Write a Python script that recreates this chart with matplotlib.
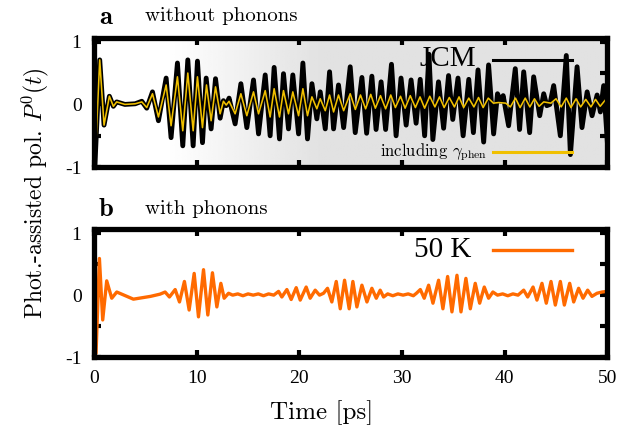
#plot photon-assisted polarisation, without / with phonons

import numpy as np
import matplotlib
matplotlib.use('Agg')
import matplotlib.pyplot as plt

plt.rcParams['mathtext.fontset'] = 'cm'

# panel a, JCM (black): extrema
black_t = [0.08, 0.55, 0.97, 1.49, 1.88, 2.2, 3.0, 4.0, 4.65, 5.13, 5.69, 6.27, 7.02, 7.5, 8.12, 8.64, 9.13, 9.65,
           10.07, 10.56, 10.92, 11.4, 11.83, 12.28, 12.6, 12.87, 13.15, 13.74, 14.3, 14.88, 15.53, 16.02, 16.67, 17.15,
           17.54, 18.06, 18.45, 18.94, 19.36, 19.92, 20.34, 20.79, 21.22, 21.7, 22.03, 22.52, 22.94, 23.33, 23.81, 24.31,
           24.95, 25.44, 26.09, 26.55, 27.06, 27.47, 27.96, 28.4, 28.97, 29.42, 29.9, 30.4, 30.88, 31.37, 31.77, 32.2,
           32.62, 33.0, 33.55, 34.05, 34.53, 34.94, 35.45, 35.95, 36.5, 36.95, 37.4, 37.95, 38.43, 38.92, 39.3, 39.6,
           39.85, 40.38, 41.03, 41.45, 41.85, 42.43, 42.82, 43.41, 43.8, 44.1, 44.4, 44.77, 45.42, 46.0, 46.4, 47.05,
           47.53, 48.03, 48.51, 49.0, 49.32, 49.64, 50.0]
black_y = [-0.97, 0.71, -0.33, 0.13, -0.03, 0.04, 0.0, 0.01, 0.05, -0.06, 0.2, -0.26, 0.42, -0.53, 0.66, -0.66, 0.71, -0.66,
           0.69, -0.61, 0.42, -0.39, 0.41, -0.22, 0.06, -0.02, 0.1, -0.31, 0.33, -0.37, 0.39, -0.47, 0.47, -0.5,
           0.59, -0.55, 0.49, -0.39, 0.47, -0.47, 0.66, -0.55, 0.33, -0.23, 0.2, -0.39, 0.52, -0.39, 0.31, -0.37,
           0.6, -0.45, 0.43, -0.46, 0.45, -0.4, 0.36, -0.4, 0.64, -0.5, 0.42, -0.33, 0.39, -0.3, 0.4, -0.5,
           0.8, -0.56, 0.36, -0.38, 0.46, -0.24, 0.42, -0.5, 0.4, -0.45, 0.55, -0.6, 0.63, -0.47, 0.17, 0.05,
           0.14, -0.34, 0.57, -0.4, 0.52, -0.45, 0.44, -0.18, 0.17, -0.02, 0.0, 0.3, -0.5, 0.78, -0.8, 0.6,
           -0.37, 0.2, -0.18, 0.15, -0.12, 0.3, -0.6]

# panel a, including gamma_phen (yellow)
yellow_t = [0.08, 0.55, 0.97, 1.49, 1.88, 2.2, 3.0, 4.0, 4.65, 5.13, 5.69, 6.27, 7.02, 7.5, 8.12, 8.64, 9.13, 9.65,
            10.07, 10.56, 10.95, 11.4, 11.83, 12.28, 12.6, 12.87, 13.15, 13.74, 14.3, 14.88, 15.53, 16.02, 16.67, 17.15,
            17.54, 18.06, 18.45, 18.94, 19.36, 19.92, 20.34, 20.79, 21.22, 21.7, 22.03, 22.52, 22.94, 23.33, 23.81, 24.31,
            24.95, 25.45, 25.95, 26.45, 26.95, 27.4, 27.9, 28.4, 28.9, 29.35, 29.85, 30.3, 30.8, 31.3, 31.75, 32.2,
            32.7, 33.2, 33.65, 34.1, 34.6, 35.1, 35.55, 36.0, 36.5, 37.0, 37.45, 37.9, 38.4, 38.9, 39.4, 40.1,
            40.55, 41.05, 41.5, 42.0, 42.45, 42.9, 43.35, 43.8, 44.5, 45.0, 45.5, 46.0, 46.45, 46.95, 47.4, 47.9,
            48.4, 48.85, 49.3, 49.8, 50.0]
yellow_y = [-0.97, 0.71, -0.33, 0.13, -0.03, 0.04, 0.0, 0.01, 0.04, -0.05, 0.17, -0.2, 0.31, -0.34, 0.44, -0.42, 0.5, -0.42,
            0.44, -0.37, 0.31, -0.26, 0.28, -0.15, 0.05, -0.01, 0.05, -0.15, 0.17, -0.18, 0.2, -0.15, 0.22, -0.2,
            0.25, -0.2, 0.22, -0.15, 0.2, -0.18, 0.25, -0.18, 0.12, -0.07, 0.09, -0.1, 0.15, -0.12, 0.15, -0.1,
            0.17, -0.08, 0.15, -0.07, 0.16, -0.06, 0.14, -0.07, 0.15, -0.05, 0.13, -0.06, 0.14, -0.05, 0.12, -0.06,
            0.13, -0.04, 0.12, -0.05, 0.11, -0.04, 0.12, -0.05, 0.1, -0.04, 0.11, -0.05, 0.1, 0.02, 0.03, 0.02,
            -0.04, 0.1, -0.05, 0.1, -0.04, 0.09, -0.03, 0.04, 0.02, 0.09, -0.04, 0.1, -0.05, 0.09, -0.04, 0.08,
            -0.04, 0.08, -0.03, 0.07, 0.02]

# panel b, 50 K (orange)
orange_t = [0.05, 0.19, 0.52, 0.84, 1.23, 1.72, 2.21, 3.83, 5.5, 6.43, 6.92, 7.34, 7.9, 8.32, 8.8, 9.26, 9.75, 10.17,
            10.66, 11.08, 11.53, 11.96, 12.35, 12.67, 13.1, 13.5, 14.0, 14.5, 15.0, 15.5, 16.0, 16.5, 17.0, 17.5,
            17.97, 18.29, 18.78, 19.2, 19.69, 20.08, 20.66, 21.05, 21.54, 21.96, 22.35, 22.74, 23.16, 23.59, 23.98, 24.4,
            24.85, 25.21, 25.6, 26.09, 26.58, 27.06, 27.49, 27.87, 28.2, 28.6, 29.1, 29.6, 30.1, 30.6, 31.1, 31.4,
            31.78, 32.16, 32.59, 33.01, 33.56, 33.98, 34.44, 34.86, 35.35, 35.74, 36.22, 36.65, 37.13, 37.56, 38.01, 38.43,
            38.85, 39.3, 39.8, 40.3, 40.8, 41.3, 41.85, 42.24, 42.76, 43.14, 43.63, 44.05, 44.51, 44.93, 45.42, 45.81,
            46.33, 46.72, 47.2, 47.63, 48.08, 48.5, 48.99, 49.48, 50.0]
orange_y = [0.0, -0.94, 0.59, -0.4, 0.23, -0.05, 0.05, -0.065, -0.02, 0.016, 0.05, -0.03, 0.09, -0.11, 0.22, -0.24, 0.35, -0.35,
            0.41, -0.32, 0.36, -0.19, 0.19, -0.05, 0.03, 0.0, 0.02, -0.01, 0.02, 0.0, 0.02, -0.01, 0.02, 0.0,
            0.06, -0.03, 0.09, -0.07, 0.12, -0.08, 0.13, -0.05, 0.08, 0.0, 0.03, 0.11, -0.11, 0.22, -0.22, 0.24,
            -0.22, 0.22, -0.19, 0.16, -0.11, 0.11, -0.05, 0.08, -0.03, 0.02, -0.01, 0.02, 0.0, 0.02, -0.01, 0.03,
            0.09, -0.05, 0.16, -0.13, 0.24, -0.22, 0.3, -0.27, 0.32, -0.27, 0.27, -0.22, 0.19, -0.13, 0.13, -0.05,
            0.05, 0.0, 0.02, -0.01, 0.02, 0.0, 0.08, -0.03, 0.13, -0.08, 0.19, -0.13, 0.22, -0.16, 0.22, -0.16,
            0.19, -0.11, 0.11, -0.05, 0.08, -0.02, 0.03, 0.05, 0.06]

xticks = [0, 10, 20, 30, 40, 50]
yticks = [-1, -0.5, 0, 0.5, 1]
ytick_labels = ['-1', '', '0', '', '1']

BLACK = 'black'
YELLOW = '#f0c000'
ORANGE = '#ff6a00'
TICKFONT = 'Liberation Serif'


def style_axes(ax, show_x):
    ax.set_xlim(0, 50)
    ax.set_ylim(-1.0, 1.06)
    ax.set_xticks(xticks)
    ax.set_yticks(yticks)
    ax.set_yticklabels(ytick_labels, fontfamily=TICKFONT, fontsize=14)
    if show_x:
        ax.set_xticklabels([str(v) for v in xticks], fontfamily=TICKFONT, fontsize=14)
    else:
        ax.set_xticklabels([])
    ax.tick_params(direction='in', length=5, width=3, top=True, right=True, pad=9)
    for s in ax.spines.values():
        s.set_linewidth(3.8)
        s.set_zorder(10)


fig = plt.figure(figsize=(6.4, 4.41), dpi=100)
ax1 = fig.add_axes([0.147, 0.621, 0.802, 0.293])
ax2 = fig.add_axes([0.147, 0.190, 0.802, 0.290])

# grey fading background of panel a
xs = np.linspace(0, 50, 300)
shade = np.interp(xs, [0, 7, 22, 50], [1.0, 1.0, 0.885, 0.885])
ax1.imshow(shade[np.newaxis, :], extent=[0, 50, -1.0, 1.06], aspect='auto', cmap='gray',
           vmin=0, vmax=1, zorder=0, interpolation='bilinear')

ax1.plot(black_t, black_y, color=BLACK, lw=3.5, solid_joinstyle='round', zorder=2)
ax1.plot(yellow_t, yellow_y, color=YELLOW, lw=1.15, solid_joinstyle='round', zorder=3)
ax2.plot(orange_t, orange_y, color=ORANGE, lw=2.4, solid_joinstyle='round', zorder=3)

style_axes(ax1, False)
style_axes(ax2, True)

# legend entries, gnuplot style: text then sample line
ax1.text(0.745, 0.835, 'JCM', transform=ax1.transAxes, ha='right', va='center',
         fontfamily=TICKFONT, fontsize=21, zorder=5)
ax1.plot([0.778, 0.932], [0.829, 0.829], transform=ax1.transAxes, color=BLACK, lw=2.2, zorder=5)
ax1.text(0.766, 0.118, r'including $\gamma_{\mathrm{phen}}$', transform=ax1.transAxes, ha='right',
         va='center', fontfamily='cmr10', fontsize=12, zorder=5)
ax1.plot([0.778, 0.932], [0.116, 0.116], transform=ax1.transAxes, color=YELLOW, lw=2.2, zorder=5)

ax2.text(0.735, 0.84, '50 K', transform=ax2.transAxes, ha='right', va='center',
         fontfamily=TICKFONT, fontsize=21, zorder=5)
ax2.plot([0.778, 0.932], [0.836, 0.836], transform=ax2.transAxes, color=ORANGE, lw=2.4, zorder=5)

# panel titles
fig.text(99 / 640, 1 - 17 / 441, 'a', fontfamily='cmb10', fontsize=19, va='center')
fig.text(145 / 640, 1 - 16 / 441, 'without phonons', fontfamily='cmr10', fontsize=15, va='center')
fig.text(99 / 640, 1 - 210 / 441, 'b', fontfamily='cmb10', fontsize=19, va='center')
fig.text(145 / 640, 1 - 209 / 441, 'with phonons', fontfamily='cmr10', fontsize=15, va='center')

fig.text(35 / 640, 1 - 193 / 441, r'Phot.-assisted pol. $P^0(t)$', rotation=90, fontfamily='cmr10',
         fontsize=17, ha='center', va='center')
fig.text(322 / 640, 1 - 413 / 441, 'Time [ps]', fontfamily='cmr10', fontsize=18, ha='center', va='center')

plt.savefig('out.png', dpi=100)
